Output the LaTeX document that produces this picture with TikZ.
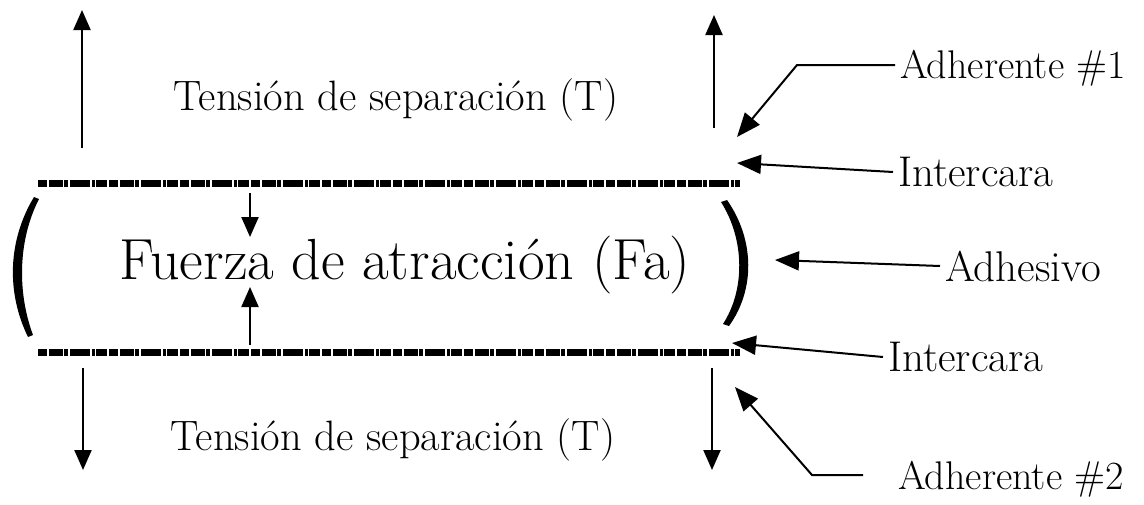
\documentclass[tikz,border=0pt]{standalone}
\usepackage{fontspec}
\usetikzlibrary{arrows.meta}

\begin{document}
\begin{tikzpicture}[x=1pt,y=-1pt,
  force/.style={line width=2.2pt,-{Triangle[length=20pt,width=17pt]}},
  ptr/.style={line width=2pt,-{Triangle[length=24pt,width=19pt]}},
  iface/.style={line width=7pt,
    dash pattern=on 9pt off 1.5pt on 14pt off 1.5pt on 4pt off 2pt on 20pt off 1.5pt on 3pt off 1.5pt on 11pt off 2pt},
  lbl/.style={font=\fontsize{43}{46}\selectfont,inner sep=5pt},
  adhlbl/.style={font=\fontsize{40}{44}\selectfont,inner sep=5pt},
  septext/.style={font=\fontsize{42.5}{46}\selectfont},
  fuerza/.style={font=\fontsize{58}{62}\selectfont}]
  \useasboundingbox (0,0) rectangle (1144,504);

  % interfaces
  \coordinate (i1a) at (38,183);  \coordinate (i1b) at (740,183);
  \coordinate (i2a) at (38,352);  \coordinate (i2b) at (740,352);
  \draw[iface] (i1a) -- (i1b);
  \draw[iface] (i2a) -- (i2b);

  % adhesive brackets
  \fill (34,197) .. controls (8,240) and (6,292) .. (28,337) -- (33,335)
        .. controls (17,292) and (18,240) .. (39,199) -- cycle;
  \fill (727,200) .. controls (755,240) and (755,290) .. (729,326) -- (723,324)
        .. controls (745,290) and (745,240) .. (721,202) -- cycle;

  % texts
  \node[septext] (tsup) at (396,100) {Tensión de separación (T)};
  \node[septext] (tinf) at (393,440) {Tensión de separación (T)};
  \node[fuerza] (fa) at (405,265) {Fuerza de atracción (Fa)};

  % separation forces
  \coordinate (t1a) at (82,148);  \coordinate (t1b) at (82,10);
  \coordinate (t2a) at (714,128); \coordinate (t2b) at (714,15);
  \coordinate (t3a) at (83,368);  \coordinate (t3b) at (83,470);
  \coordinate (t4a) at (712,368); \coordinate (t4b) at (712,470);
  \draw[force] (t1a) -- (t1b);
  \draw[force] (t2a) -- (t2b);
  \draw[force] (t3a) -- (t3b);
  \draw[force] (t4a) -- (t4b);

  % attraction
  \coordinate (fa1) at (250,193); \coordinate (fa2) at (250,237);
  \coordinate (fa3) at (250,345); \coordinate (fa4) at (250,287);
  \draw[force] (fa1) -- (fa2);
  \draw[force] (fa3) -- (fa4);

  % labels on the right
  \node[adhlbl,anchor=west] (adh1) at (895,68) {Adherente \#1};
  \node[lbl,anchor=west] (int1) at (893,172) {Intercara};
  \node[lbl,anchor=west] (adhv) at (940,266) {Adhesivo};
  \node[lbl,anchor=west] (int2) at (883,357) {Intercara};
  \node[adhlbl,anchor=west] (adh2) at (893,479) {Adherente \#2};

  \coordinate (k1) at (797,65);   \coordinate (p1) at (737,137);
  \coordinate (p2) at (737,163);
  \coordinate (p3) at (775,260);
  \coordinate (p4) at (732,343);
  \coordinate (k5) at (812,475);  \coordinate (p5) at (735,387);

  \draw[ptr] (adh1.west |- k1) -- (k1) -- (p1);
  \draw[ptr] (int1.west) -- (p2);
  \draw[ptr] (adhv.west) -- (p3);
  \draw[ptr] (int2.west) -- (p4);
  \draw[ptr] ([xshift=-30pt]adh2.west |- k5) -- (k5) -- (p5);
\end{tikzpicture}
\end{document}
